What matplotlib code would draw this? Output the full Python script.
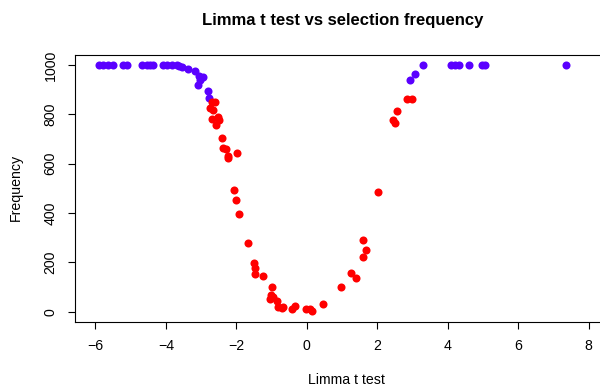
import numpy as np
import matplotlib
matplotlib.use("Agg")
import matplotlib.pyplot as plt


# ----------------------------
# データ
# ----------------------------

# 選択頻度が高い点 (青)
blue_t = [-5.89, -5.77, -5.65, -5.50, -5.21, -5.10, -4.69, -4.54, -4.45, -4.37,
          -4.07, -3.96, -3.83, -3.69, -3.62, -3.53, -3.36, -3.16, -3.07, -2.95,
          -3.04, -3.09, -2.81, -2.78,
          2.93, 3.07, 3.29, 4.09, 4.21, 4.33, 4.60, 4.96, 5.06, 7.35]
blue_freq = [1000, 1000, 1000, 1000, 1000, 1000, 1000, 1000, 1000, 1000,
             1000, 1000, 1000, 998, 995, 990, 985, 975, 955, 953,
             940, 920, 893, 868,
             939, 962, 1000, 1000, 1000, 1000, 1000, 1000, 1000, 1000]

# それ以外 (赤)
red_t = [-2.70, -2.60, -2.75, -2.65, -2.70, -2.51, -2.48, -2.57, -2.41, -2.38,
         -2.28, -2.25, -2.23, -1.99, -2.06, -2.01, -1.92, -1.66, -1.50, -1.47,
         -1.47, -1.23, -1.00, -1.02, -0.95, -1.04, -0.86, -0.81, -0.71, -0.67,
         -0.43, -0.33, -0.02, 0.09, 0.15, 0.47, 0.97, 1.25, 1.40, 1.59,
         1.67, 1.60, 2.03, 2.45, 2.50, 2.55, 2.83, 2.98]
red_freq = [851, 851, 824, 818, 782, 790, 777, 757, 704, 662,
            660, 622, 632, 642, 493, 453, 396, 277, 199, 178,
            153, 146, 101, 68, 62, 50, 42, 20, 14, 18,
            10, 23, 10, 10, 5, 31, 101, 156, 139, 221,
            250, 291, 486, 777, 766, 815, 862, 862]

x_ticks = [-6, -4, -2, 0, 2, 4, 6, 8]
y_ticks = [0, 200, 400, 600, 800, 1000]

BLUE = "#5a00ff"
RED = "#ff0000"
FONT = "Liberation Sans"
LABEL_SIZE = 10.2


def main():
    plt.rcParams["font.family"] = [FONT, "DejaVu Sans"]

    fig = plt.figure(figsize=(6, 3.9), dpi=100)
    ax = fig.add_axes([0.1255, 0.1751, 0.8928, 0.6838])

    ax.plot(blue_t, blue_freq, "o", color=BLUE, ms=5.8, mew=0)
    ax.plot(red_t, red_freq, "o", color=RED, ms=5.8, mew=0)

    ax.set_xlim(-6.57, 8.63)
    ax.set_ylim(-40, 1040)
    ax.set_xticks(x_ticks)
    ax.set_yticks(y_ticks)
    ax.set_xticklabels([str(v).replace("-", "\u2212") for v in x_ticks])
    ax.set_yticklabels([str(v) for v in y_ticks], rotation=90, va="center")

    for s in ax.spines.values():
        s.set_linewidth(0.8)
        s.set_color("black")
    ax.tick_params(length=5.2, width=0.8, pad=7.5, labelsize=LABEL_SIZE,
                   colors="black")

    fig.text(343 / 600, 1 - 20 / 390, "Limma t test vs selection frequency",
             ha="center", va="center", fontsize=12, fontweight="bold")
    fig.text(346 / 600, 1 - 380 / 390, "Limma t test",
             ha="center", va="center", fontsize=LABEL_SIZE)
    fig.text(16 / 600, 1 - 187 / 390, "Frequency", rotation=90,
             ha="center", va="center", fontsize=LABEL_SIZE)

    fig.savefig("out.png", dpi=100)


if __name__ == "__main__":
    main()
